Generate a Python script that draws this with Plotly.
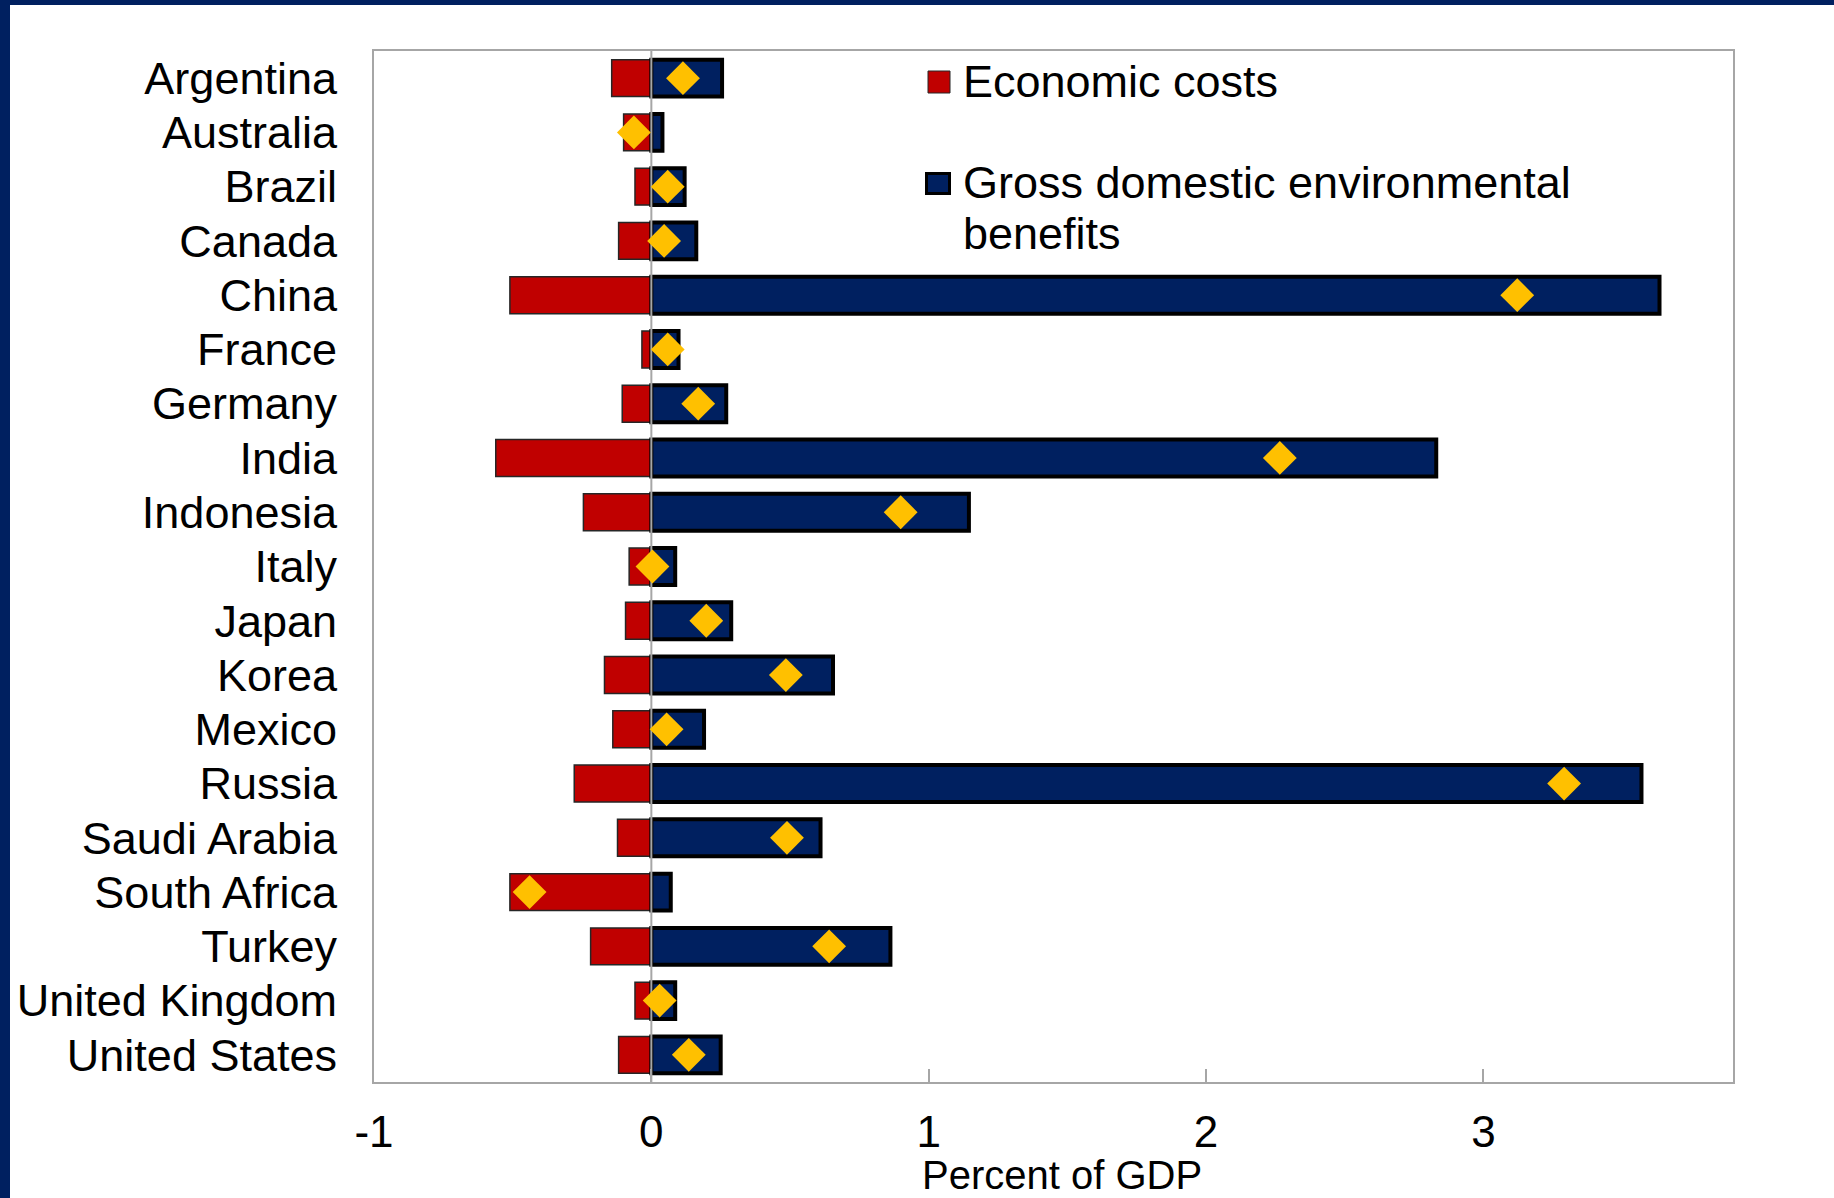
import plotly.graph_objects as go

# G20 countries: economic costs vs. gross domestic environmental benefits (% of GDP)
countries = ["Argentina", "Australia", "Brazil", "Canada", "China", "France",
             "Germany", "India", "Indonesia", "Italy", "Japan", "Korea", "Mexico",
             "Russia", "Saudi Arabia", "South Africa", "Turkey",
             "United Kingdom", "United States"]

economic_costs = [-0.143, -0.100, -0.059, -0.118, -0.510, -0.034, -0.105,
                  -0.561, -0.245, -0.080, -0.093, -0.169, -0.139, -0.278,
                  -0.122, -0.510, -0.219, -0.059, -0.118]

env_benefits = [0.255, 0.040, 0.120, 0.162, 3.635, 0.098, 0.270, 2.830,
                1.145, 0.086, 0.288, 0.655, 0.190, 3.570, 0.610, 0.070,
                0.862, 0.086, 0.250]

net_benefits = [0.114, -0.063, 0.059, 0.046, 3.122, 0.059, 0.169, 2.266,
                0.899, 0.004, 0.198, 0.485, 0.055, 3.291, 0.489, -0.439,
                0.641, 0.030, 0.135]

x_ticks = [-1, 0, 1, 2, 3]
x_range = [-1, 3.9]

RED = "#C00000"
NAVY = "#002060"
GOLD = "#FFC000"
FRAME = "#A6A6A6"
FONT = "Liberation Sans, Arial, sans-serif"

W, H = 1834, 1198
ML, MR, MT, MB = 374, 101, 51, 116
PW, PH = W - ML - MR, H - MT - MB

pos = list(range(len(countries)))
y_range = [len(countries) - 0.5, -0.5]


def px_x(px):
    return (px - ML) / PW


def px_y(py):
    return (H - MB - py) / PH


fig = go.Figure()

fig.add_trace(go.Bar(
    y=pos, x=economic_costs, orientation="h", width=0.68,
    marker=dict(color=RED, line=dict(color="#262626", width=1.5)),
    name="Economic costs", showlegend=False, hoverinfo="x+text",
    text=countries, textposition="none",
))
fig.add_trace(go.Bar(
    y=pos, x=env_benefits, orientation="h", width=0.68,
    marker=dict(color=NAVY, line=dict(color="#000000", width=4)),
    name="Gross domestic environmental benefits", showlegend=False,
    hoverinfo="x+text", text=countries, textposition="none",
))
# zero reference line, drawn above the bars but under the net markers
fig.add_trace(go.Scatter(
    x=[0, 0], y=y_range, mode="lines",
    line=dict(color=FRAME, width=2), hoverinfo="skip", showlegend=False,
))
fig.add_trace(go.Scatter(
    y=pos, x=net_benefits, mode="markers",
    marker=dict(symbol="diamond", size=26, color=GOLD, line=dict(width=0)),
    name="Net benefits", showlegend=False, cliponaxis=False,
))

shapes = [
    # navy frame strips along the top and left edges
    dict(type="rect", xref="paper", yref="paper",
         x0=px_x(0), x1=px_x(10), y0=px_y(H), y1=px_y(0),
         fillcolor=NAVY, line=dict(width=0), layer="above"),
    dict(type="rect", xref="paper", yref="paper",
         x0=px_x(0), x1=px_x(W), y0=px_y(5), y1=px_y(0),
         fillcolor=NAVY, line=dict(width=0), layer="above"),
    # legend swatches
    dict(type="rect", xref="paper", yref="paper",
         x0=px_x(928), x1=px_x(950), y0=px_y(93), y1=px_y(71),
         fillcolor=RED, line=dict(color="#262626", width=1)),
    dict(type="rect", xref="paper", yref="paper",
         x0=px_x(926.5), x1=px_x(949.5), y0=px_y(193.5), y1=px_y(173.5),
         fillcolor=NAVY, line=dict(color="#000000", width=3)),
]

legend_font = dict(family=FONT, size=45, color="#000000")
annotations = [
    dict(text="Economic costs", xref="paper", yref="paper",
         x=px_x(961), y=px_y(82), xanchor="left", yanchor="middle",
         showarrow=False, font=legend_font),
    dict(text="Gross domestic environmental", xref="paper", yref="paper",
         x=px_x(961), y=px_y(183), xanchor="left", yanchor="middle",
         showarrow=False, font=legend_font),
    dict(text="benefits", xref="paper", yref="paper",
         x=px_x(961), y=px_y(234), xanchor="left", yanchor="middle",
         showarrow=False, font=legend_font),
    dict(text="Percent of GDP", xref="paper", yref="paper",
         x=px_x(1061.5), y=px_y(1175), xanchor="center", yanchor="middle",
         showarrow=False, font=dict(family=FONT, size=40, color="#000000")),
]

fig.update_layout(
    width=W, height=H,
    margin=dict(l=ML, r=MR, t=MT, b=MB, pad=0),
    paper_bgcolor="#FFFFFF", plot_bgcolor="#FFFFFF",
    barmode="overlay",
    showlegend=False,
    font=dict(family=FONT, color="#000000"),
    shapes=shapes,
    annotations=annotations,
    xaxis=dict(
        range=x_range, tickvals=x_ticks, ticktext=[str(v) for v in x_ticks],
        ticks="inside", ticklen=13, tickwidth=1.5, tickcolor=FRAME,
        showgrid=False, zeroline=False,
        showline=True, mirror=True, linecolor=FRAME, linewidth=2,
        tickfont=dict(family=FONT, size=44, color="#000000"),
        ticklabelstandoff=10,
    ),
    yaxis=dict(
        range=y_range, tickvals=pos, ticktext=countries,
        ticks="", showgrid=False, zeroline=False,
        showline=True, mirror=True, linecolor=FRAME, linewidth=2,
        tickfont=dict(family=FONT, size=45, color="#000000"),
        ticklabelstandoff=26,
    ),
)

fig.write_html("out.html")
